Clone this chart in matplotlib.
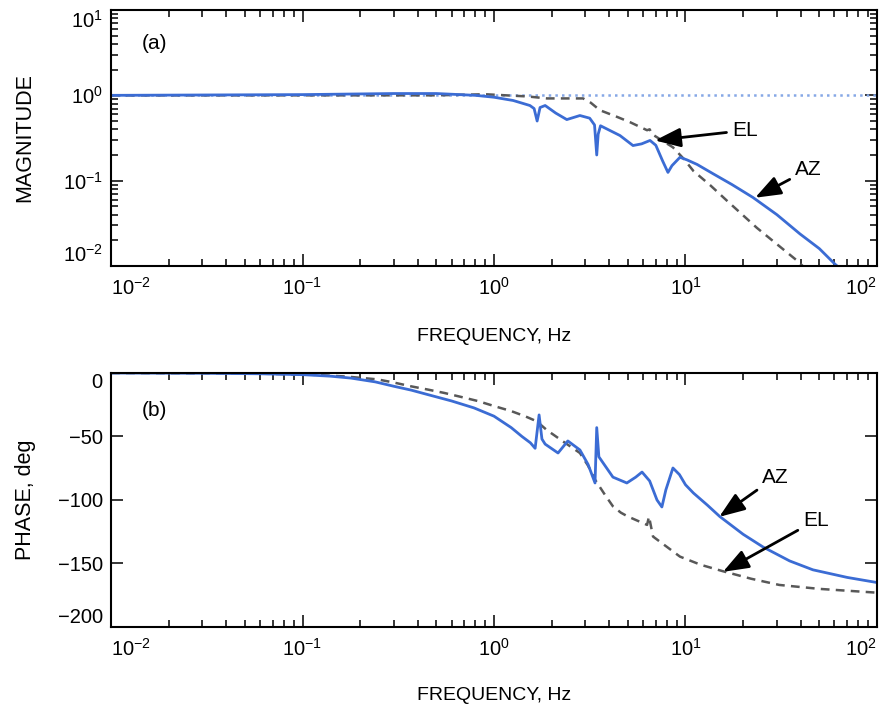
import numpy as np
import matplotlib
matplotlib.use("Agg")
import matplotlib.pyplot as plt

plt.rcParams['font.family'] = ['Liberation Sans', 'DejaVu Sans']
plt.rcParams['mathtext.fontset'] = 'custom'
plt.rcParams['mathtext.rm'] = 'Liberation Sans'
plt.rcParams['mathtext.it'] = 'Liberation Sans:italic'
plt.rcParams['font.size'] = 14

# magnitude, AZ axis
az_mag_f = [0.01, 0.1, 0.3, 0.5, 0.8, 1.0, 1.26, 1.54, 1.62, 1.68, 1.74, 1.85, 2.1, 2.4,
            2.81, 3.16, 3.35, 3.44, 3.5, 3.6, 4.55, 5.32, 5.9, 6.53, 7.0, 7.6, 8.1, 8.5,
            9.36, 10.2, 11.5, 13.9, 17.5, 22.5, 30, 39.6, 50, 60.4, 100]
az_mag = [1.0, 1.02, 1.05, 1.05, 1.0, 0.95, 0.87, 0.76, 0.7, 0.5, 0.72, 0.76, 0.62, 0.52,
          0.58, 0.54, 0.45, 0.2, 0.35, 0.44, 0.338, 0.258, 0.27, 0.296, 0.26, 0.17, 0.125,
          0.15, 0.188, 0.175, 0.155, 0.121, 0.09, 0.0636, 0.04, 0.0238, 0.016, 0.0105, 0.004]

# magnitude, EL axis
el_mag_f = [0.01, 0.5, 0.9, 1.5, 1.89, 2.92, 3.2, 3.57, 4.3, 5.13, 6.3, 6.5, 6.7, 8.6,
            9.8, 11, 13.5, 16.5, 23.6, 38.2, 100]
el_mag = [1.0, 1.0, 1.03, 0.97, 0.92, 0.92, 0.82, 0.67, 0.57, 0.485, 0.39, 0.40, 0.35,
          0.246, 0.18, 0.13, 0.088, 0.058, 0.028, 0.0116, 0.0015]

# phase, AZ axis (deg)
az_ph_f = [0.01, 0.03, 0.06, 0.1, 0.14, 0.179, 0.24, 0.301, 0.37, 0.451, 0.6, 0.787, 1.0,
           1.23, 1.4, 1.55, 1.64, 1.72, 1.78, 1.85, 2.16, 2.43, 2.81, 3.1, 3.37, 3.44,
           3.53, 4.18, 4.94, 5.5, 5.93, 6.5, 7.1, 7.53, 7.9, 8.6, 9.3, 10, 11, 13, 15.1,
           20, 25.4, 35, 46.3, 70, 100]
az_ph = [0, -0.2, -0.6, -1.3, -2.5, -4, -7, -10.5, -13.5, -17, -22, -27.5, -34,
         -43, -50, -55, -59.3, -33, -52, -56, -63, -53.5, -60.6, -72, -86.6, -43,
         -66, -82, -86.6, -82, -78, -85, -100, -105.5, -92, -74.8, -80, -88, -94.5, -104,
         -113, -127, -137, -148, -155, -161, -165]

# phase, EL axis (deg)
el_ph_f = [0.01, 0.05, 0.11, 0.17, 0.246, 0.3, 0.369, 0.45, 0.55, 0.68, 0.82, 1.0, 1.23,
           1.45, 1.67, 1.89, 2.3, 2.81, 3.1, 3.37, 3.8, 4.18, 4.6, 5.0, 6.3, 6.45, 6.77,
           9.36, 12, 15.6, 22, 30.9, 50, 100]
el_ph = [0, -0.3, -1.3, -2.8, -5, -7.5, -10.5, -13, -15.7, -19, -22, -26, -30,
         -34, -38, -45, -54, -63, -73, -84, -96, -105, -110, -113, -119.6, -113, -128.8,
         -144.6, -151, -156, -162, -166.9, -170, -173]

AZ_C = '#3b6cd4'
EL_C = '#585858'

fig = plt.figure(figsize=(8.86, 7.09), dpi=100)
ax1 = fig.add_axes([0.1253, 0.6248, 0.8645, 0.3611])
ax2 = fig.add_axes([0.1253, 0.1157, 0.8645, 0.3582])

arrow = dict(arrowstyle='-|>,head_length=1.2,head_width=0.45', mutation_scale=13,
             lw=2, color='k', shrinkA=2, shrinkB=0)

# (a) magnitude
ax1.axhline(1.0, color='#86a8e6', lw=1.8, ls=':')
ax1.plot(el_mag_f, el_mag, color=EL_C, lw=1.8, dashes=(3.5, 2.5))
ax1.plot(az_mag_f, az_mag, color=AZ_C, lw=2.0)
ax1.set_xscale('log')
ax1.set_yscale('log')
ax1.set_xlim(1e-2, 1e2)
ax1.set_ylim(1e-2, 1e1)
ax1.set_yticks([1e-2, 1e-1, 1e0, 1e1])
ax1.set_ylabel('MAGNITUDE', fontsize=15.5, va='center')
ax1.set_xlabel('FREQUENCY, Hz', va='center')
ax1.text(0.057, 0.871, '(a)', transform=ax1.transAxes, ha='center', va='center',
         fontsize=15)
ax1.annotate('EL', xy=(6.93, 0.296), xytext=(17.5, 0.388), arrowprops=arrow,
             ha='left', va='center', fontsize=15)
ax1.annotate('AZ', xy=(23.1, 0.0631), xytext=(37.3, 0.135), arrowprops=arrow,
             ha='left', va='center', fontsize=15)

# (b) phase
ax2.plot(el_ph_f, el_ph, color=EL_C, lw=1.8, dashes=(3.5, 2.5))
ax2.plot(az_ph_f, az_ph, color=AZ_C, lw=2.0)
ax2.set_xscale('log')
ax2.set_xlim(1e-2, 1e2)
ax2.set_ylim(-200, 0)
ax2.set_yticks([-200, -150, -100, -50, 0])
ax2.set_ylabel('PHASE, deg', fontsize=15.5, va='center')
ax2.set_xlabel('FREQUENCY, Hz', va='center')
ax2.text(0.057, 0.854, '(b)', transform=ax2.transAxes, ha='center', va='center',
         fontsize=15)
ax2.annotate('AZ', xy=(15.0, -113.3), xytext=(25.1, -82), arrowprops=arrow,
             ha='left', va='center', fontsize=15)
ax2.annotate('EL', xy=(15.7, -156.6), xytext=(41.1, -116), arrowprops=arrow,
             ha='left', va='center', fontsize=15)

for ax in (ax1, ax2):
    ax.set_xticks([1e-2, 1e-1, 1e0, 1e1, 1e2])
    for s in ax.spines.values():
        s.set_linewidth(1.5)
    ax.tick_params(which='both', direction='in', top=True, right=True, width=1.1)
    ax.tick_params(which='major', length=8.5, labelsize=14.5)
    ax.tick_params(which='minor', length=5)
    ax.tick_params(axis='x', pad=8)
    ax.tick_params(axis='y', pad=6)
    ax.yaxis.set_label_coords(-0.112, 0.5)
    xl = ax.get_xticklabels()
    xl[0].set_ha('left')
    xl[-1].set_ha('right')
    yl = ax.get_yticklabels()
    yl[0].set_va('bottom')
    yl[-1].set_va('top')
ax1.xaxis.set_label_coords(0.5, -0.275)
ax2.xaxis.set_label_coords(0.5, -0.27)
ax2.tick_params(axis='y', which='minor', left=False, right=False)

fig.savefig('out.png', dpi=100)
